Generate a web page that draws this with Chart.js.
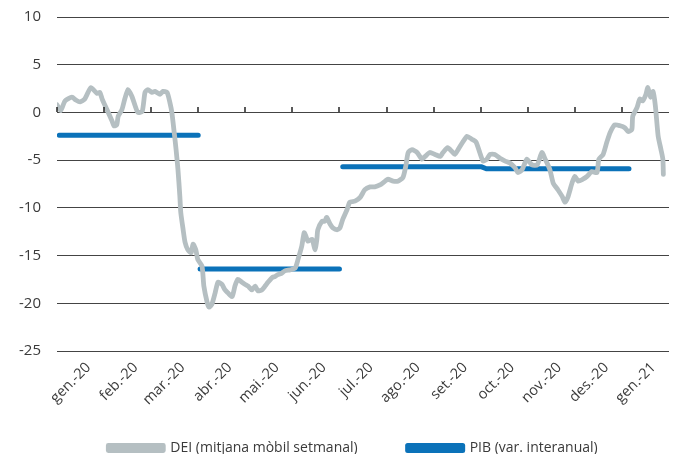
<!DOCTYPE html>
<html>
<head>
<meta charset="utf-8">
<script src="https://cdn.jsdelivr.net/npm/chart.js@4"></script>
<style>
  body{margin:0;background:#fff;}
  #wrap{width:683px;height:454px;}
</style>
</head>
<body>
<div id="wrap"><canvas id="c"></canvas></div>
<script>
// categories (one per month, gen.-20 .. gen.-21)
let monthLabels=["gen.-20","feb.-20","mar.-20","abr.-20","mai.-20","jun.-20","jul.-20","ago.-20","set.-20","oct.-20","nov.-20","des.-20","gen.-21"];

// DEI: x in months since 1 Jan 2020, y in %
let deiX=[0.00,0.08,0.17,0.32,0.40,0.49,0.59,0.72,0.85,0.91,0.96,1.06,1.17,1.21,1.27,1.30,1.38,1.44,1.51,1.59,1.66,1.72,1.81,1.87,1.93,2.02,2.08,2.19,2.25,2.34,2.40,2.44,2.49,2.53,2.57,2.61,2.63,2.68,2.72,2.78,2.85,2.89,2.95,2.99,3.08,3.12,3.19,3.23,3.29,3.36,3.42,3.50,3.57,3.63,3.72,3.78,3.84,3.93,3.99,4.06,4.14,4.21,4.27,4.35,4.42,4.48,4.57,4.63,4.69,4.76,4.84,4.95,5.06,5.12,5.20,5.25,5.29,5.33,5.42,5.48,5.52,5.54,5.63,5.69,5.73,5.80,5.86,5.95,6.01,6.07,6.16,6.22,6.33,6.44,6.54,6.65,6.75,6.86,6.97,7.03,7.14,7.24,7.35,7.41,7.46,7.54,7.65,7.75,7.82,7.92,8.03,8.14,8.20,8.30,8.39,8.45,8.52,8.62,8.71,8.81,8.90,8.98,9.05,9.13,9.20,9.30,9.41,9.52,9.62,9.73,9.79,9.88,9.98,10.09,10.20,10.30,10.37,10.47,10.54,10.64,10.73,10.79,10.85,10.94,11.00,11.07,11.17,11.26,11.36,11.47,11.51,11.60,11.68,11.75,11.85,11.96,12.06,12.13,12.21,12.23,12.32,12.38,12.44,12.51,12.55,12.61,12.66,12.71,12.77,12.83,12.87,12.88];
let deiY=[0.8,0.2,1.2,1.6,1.3,1.1,1.4,2.6,2.0,2.1,1.4,0.3,-0.9,-1.4,-1.3,-0.4,0.3,1.4,2.4,1.7,0.7,0.0,0.1,2.1,2.4,2.1,2.2,1.9,2.2,2.1,1.0,0.0,-2.1,-3.9,-6.0,-8.8,-10.5,-12.3,-13.6,-14.4,-14.7,-13.8,-14.4,-15.4,-16.1,-18.2,-19.9,-20.4,-20.1,-18.9,-17.8,-18.0,-18.6,-18.9,-19.3,-18.2,-17.5,-17.8,-18.0,-18.2,-18.6,-18.2,-18.7,-18.6,-18.2,-17.8,-17.3,-17.2,-17.0,-16.9,-16.6,-16.5,-16.3,-15.4,-14.0,-12.6,-13.0,-13.5,-13.3,-14.4,-13.3,-12.3,-11.4,-11.4,-11.0,-11.7,-12.1,-12.3,-12.1,-11.2,-10.2,-9.4,-9.3,-8.9,-8.1,-7.8,-7.8,-7.6,-7.2,-7.0,-7.2,-7.2,-6.8,-5.6,-4.2,-3.9,-4.2,-4.9,-4.6,-4.2,-4.4,-4.6,-4.2,-3.7,-4.1,-4.4,-3.9,-3.1,-2.5,-2.8,-3.1,-4.2,-5.1,-4.9,-4.4,-4.4,-4.8,-5.1,-5.3,-5.8,-6.3,-6.0,-4.9,-5.5,-5.5,-4.2,-4.9,-6.0,-7.4,-8.1,-8.8,-9.4,-8.9,-7.4,-6.7,-7.2,-7.0,-6.7,-6.2,-6.3,-4.9,-4.4,-3.1,-2.1,-1.3,-1.4,-1.6,-2.0,-1.8,-0.4,0.5,1.4,1.2,1.9,2.6,1.6,2.2,0.7,-2.5,-3.9,-4.9,-6.5];

// PIB quarterly (null = break between quarters)
let pibX=[0.05,3.00,3.02,3.04,6.00,6.03,6.07,9.02,9.12,12.15];
let pibY=[-2.4,-2.4,null,-16.4,-16.4,null,-5.7,-5.7,-5.9,-5.9];

let seriesNames=["DEI (mitjana mòbil setmanal)","PIB (var. interanual)"];
let txt="#3a3a3a";
let font="'Open Sans', sans-serif";

// small tick marks on the zero line, one per month boundary
let zeroTicks={
  id:"zeroTicks",
  afterLayout(chart){
    // let rotated month labels run down past the shortened axis box (no clipping)
    chart.scales.x.bottom=chart.height;
    // nudge legend to the right a bit
    chart.legend.left+=10; chart.legend.right+=10;
  },
  afterDatasetsDraw(chart){
    let xs=chart.scales.x, ys=chart.scales.y, c=chart.ctx;
    let y0=Math.round(ys.getPixelForValue(0));
    c.save();
    c.strokeStyle="#222"; c.lineWidth=1.5;
    for(let i=0;i<monthLabels.length;i++){
      let x=Math.round(xs.getPixelForValue(i));
      c.beginPath(); c.moveTo(x,y0); c.lineTo(x,y0-5); c.stroke();
    }
    c.restore();
  }
};

new Chart(document.getElementById("c"),{
  type:"line",
  data:{
    datasets:[
      {label:seriesNames[0],data:deiX.map((x,i)=>({x:x,y:deiY[i]})),
       borderColor:"#b5bfc2",backgroundColor:"#b5bfc2",borderWidth:4.8,
       pointRadius:0,tension:0.2,borderJoinStyle:"round",borderCapStyle:"round"},
      {label:seriesNames[1],data:pibX.map((x,i)=>({x:x,y:pibY[i]})),
       borderColor:"#0b72b9",backgroundColor:"#0b72b9",borderWidth:5,
       pointRadius:0,tension:0,spanGaps:false,borderCapStyle:"round",borderJoinStyle:"round"}
    ]
  },
  options:{
    responsive:true,maintainAspectRatio:false,animation:false,
    layout:{padding:{left:17,right:14,top:17,bottom:0}},
    plugins:{
      tooltip:{enabled:false},
      legend:{
        position:"bottom",maxHeight:63,
        labels:{boxWidth:55,boxHeight:5,padding:50,color:txt,font:{family:font,size:14}}
      }
    },
    scales:{
      x:{
        type:"linear",min:0,max:13,
        afterBuildTicks:s=>{s.ticks=monthLabels.map((_,i)=>({value:i+0.5}));},
        afterFit:s=>{s.height=40;},
        ticks:{callback:(v,i)=>monthLabels[i],minRotation:45,maxRotation:45,autoSkip:false,
               padding:0,labelOffset:8,color:txt,font:{family:font,size:14.5}},
        grid:{display:false},border:{display:false}
      },
      y:{
        min:-25,max:10,
        ticks:{stepSize:5,padding:2,color:txt,font:{family:font,size:15}},
        grid:{color:"#444",lineWidth:1,drawTicks:true,tickLength:14,tickColor:"rgba(0,0,0,0)"},
        border:{display:false}
      }
    }
  },
  plugins:[zeroTicks]
});
</script>
</body>
</html>
